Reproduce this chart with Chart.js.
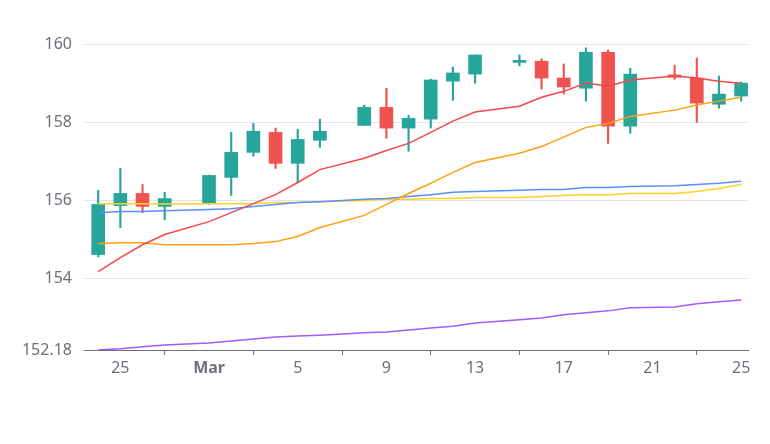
<!DOCTYPE html>
<html>
<head>
<meta charset="utf-8">
<script src="https://cdn.jsdelivr.net/npm/chart.js@4/dist/chart.umd.min.js"></script>
<style>
html,body{margin:0;padding:0;background:#fff;}
canvas{display:block;}
</style>
</head>
<body>
<canvas id="c" width="770" height="444"></canvas>
<script>
// ---- data ----
const dates = ['2023-02-24','2023-02-25','2023-02-26','2023-02-27','2023-03-01','2023-03-02','2023-03-03','2023-03-04','2023-03-05','2023-03-06','2023-03-08','2023-03-09','2023-03-10','2023-03-11','2023-03-12','2023-03-13','2023-03-15','2023-03-16','2023-03-17','2023-03-18','2023-03-19','2023-03-20','2023-03-22','2023-03-23','2023-03-24','2023-03-25'];
const openV  = [154.62,155.87,156.18,155.85,155.92,156.59,157.23,157.74,156.95,157.54,157.92,158.38,157.85,158.08,159.05,159.23,159.53,159.56,159.13,158.87,159.79,157.90,159.21,159.13,158.46,158.67];
const closeV = [155.90,156.18,155.85,156.05,156.64,157.23,157.77,156.95,157.56,157.77,158.38,157.85,158.10,159.08,159.26,159.72,159.55,159.13,158.90,159.79,157.90,159.23,159.15,158.49,158.72,159.00];
const highV  = [156.26,156.82,156.41,156.21,156.65,157.74,157.97,157.85,157.82,158.08,158.44,158.87,158.18,159.10,159.41,159.72,159.72,159.62,159.49,159.90,159.85,159.38,159.46,159.64,159.18,159.03];
const lowV   = [154.56,155.31,155.69,155.51,155.90,156.13,157.13,156.82,156.46,157.36,157.92,157.59,157.26,157.85,158.56,159.00,159.44,158.85,158.72,158.54,157.46,157.72,159.10,158.00,158.36,158.54];
const ma5  = [154.18,154.54,154.87,155.13,155.46,155.69,155.92,156.15,156.46,156.79,157.08,157.28,157.46,157.74,158.03,158.26,158.41,158.64,158.79,159.00,158.92,159.08,159.18,159.13,159.05,159.00];
const ma10 = [154.90,154.92,154.92,154.87,154.87,154.87,154.90,154.95,155.08,155.31,155.62,155.90,156.18,156.44,156.72,156.97,157.21,157.38,157.62,157.87,157.97,158.15,158.31,158.44,158.54,158.64];
const ma20 = [155.69,155.72,155.72,155.74,155.77,155.79,155.85,155.90,155.95,155.97,156.03,156.05,156.10,156.15,156.21,156.23,156.26,156.28,156.28,156.33,156.33,156.36,156.38,156.41,156.44,156.49];
const ma30 = [155.92,155.92,155.92,155.91,155.92,155.92,155.92,155.95,155.95,155.97,156.00,156.03,156.03,156.05,156.05,156.08,156.08,156.10,156.13,156.15,156.15,156.18,156.18,156.23,156.31,156.41];
const ma60 = [152.18,152.21,152.26,152.31,152.36,152.41,152.46,152.51,152.54,152.56,152.62,152.64,152.69,152.74,152.79,152.87,152.95,153.00,153.08,153.13,153.18,153.26,153.28,153.36,153.41,153.46];
const xTickDates  = ['2023-02-25','2023-03-01','2023-03-05','2023-03-09','2023-03-13','2023-03-17','2023-03-21','2023-03-25'];
const xTickLabels = ['25','Mar','5','9','13','17','21','25'];
const yTicks = [152.18,154,156,158,160];

// ---- helpers ----
const base = Date.UTC(2023,2,1);
function dayNum(s){const p=s.split('-').map(Number);return (Date.UTC(p[0],p[1]-1,p[2])-base)/86400000;}
const xs = dates.map(dayNum);
const xTickVals = xTickDates.map(dayNum);
const UP='#26A69A', DOWN='#EF5350';
const candleCol = openV.map((o,i)=> closeV[i]>=o ? UP : DOWN);
const wickData = xs.map((x,i)=>({x:x,y:[lowV[i],highV[i]]}));
const bodyData = xs.map((x,i)=>({x:x,y:[openV[i],closeV[i]]}));
function line(label,vals,color,order){
  return {type:'line',label:label,data:xs.map((x,i)=>({x:x,y:vals[i]})),borderColor:color,backgroundColor:color,
    borderWidth:1.5,pointRadius:0,tension:0,fill:false,order:order};
}
const FONT='"Noto Sans", "DejaVu Sans", sans-serif';

new Chart(document.getElementById('c'),{
  type:'bar',
  data:{datasets:[
    {label:'wick',data:wickData,backgroundColor:candleCol,barThickness:1.5,grouped:false,order:10},
    {label:'body',data:bodyData,backgroundColor:candleCol,barThickness:13,grouped:false,minBarLength:2,order:9},
    line('MA60',ma60,'#A259FF',5),
    line('MA30',ma30,'#FFD21F',4),
    line('MA20',ma20,'#5B8FF9',3),
    line('MA10',ma10,'#FFA012',2),
    line('MA5',ma5,'#F5474B',1)
  ]},
  options:{
    responsive:false,animation:false,
    layout:{padding:{left:8,right:22,top:44,bottom:64}},
    plugins:{legend:{display:false},tooltip:{enabled:false}},
    scales:{
      x:{type:'linear',min:-5.64,max:24.31,offset:false,
        border:{display:true,color:'#6E7079',width:1},
        grid:{display:true,drawOnChartArea:false,drawTicks:true,tickLength:5,color:'#6E7079'},
        afterBuildTicks:(s)=>{s.ticks=xTickVals.map(v=>({value:v}));},
        afterFit:(s)=>{s.height=30;},
        ticks:{autoSkip:false,maxRotation:0,padding:4,color:'#6E7079',
          font:(ctx)=>({family:FONT,size:16,weight:(ctx.tick&&ctx.tick.value===0)?'bold':'normal'}),
          callback:(v)=>{const i=xTickVals.indexOf(v);return i>=0?xTickLabels[i]:'';}}
      },
      y:{min:152.18,max:160,
        border:{display:false},
        grid:{color:'#E0E6F1',lineWidth:1,drawTicks:false},
        afterBuildTicks:(s)=>{s.ticks=yTicks.map(v=>({value:v}));},
        afterFit:(s)=>{s.width=76;},
        ticks:{padding:12,color:'#6E7079',font:{family:FONT,size:16},callback:(v)=>String(v)}
      }
    }
  }
});
</script>
</body>
</html>
